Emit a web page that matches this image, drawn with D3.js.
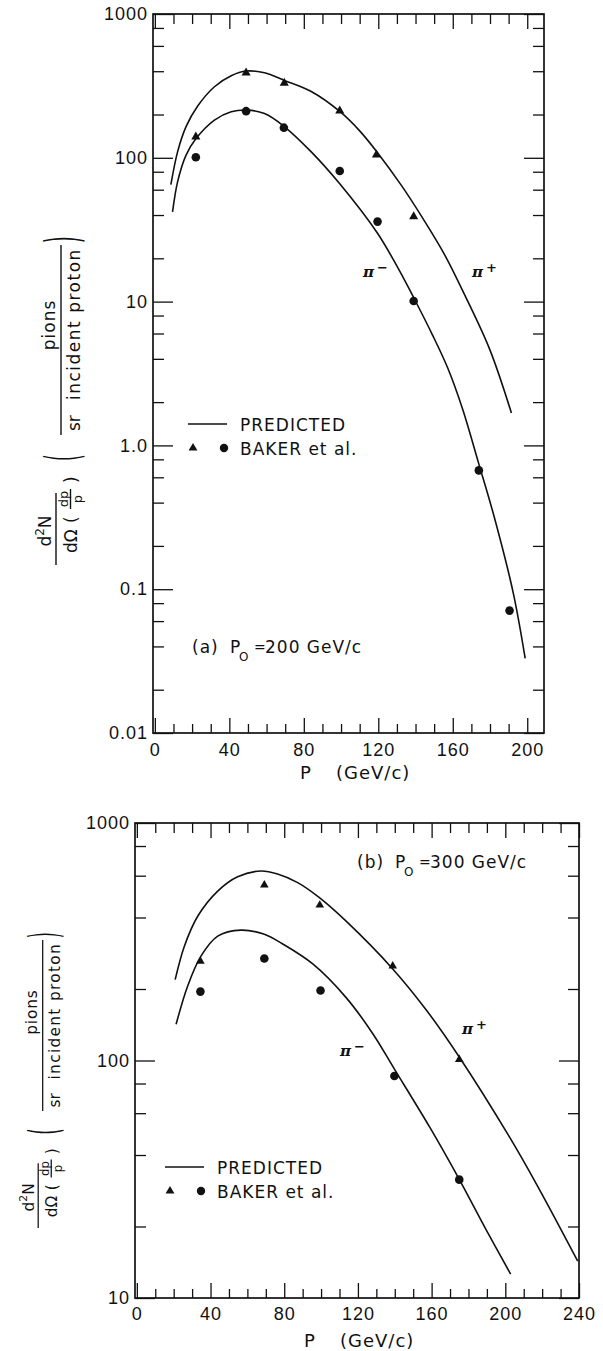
<!DOCTYPE html>
<html>
<head>
<meta charset="utf-8">
<script src="https://cdn.jsdelivr.net/npm/d3@7/dist/d3.min.js"></script>
<style>
  body { margin: 0; background: #fff; }
  svg { display: block; font-family: "DejaVu Sans", sans-serif; }
  .tick text { font-size: 18px; fill: #111; letter-spacing: 1px; }
  .tick line { stroke: #111; stroke-width: 1.3; }
</style>
</head>
<body>
<script>
// ---- panel (a): P0 = 200 GeV/c ----
var aPlusPts  = [[22,140],[49,390],[69.5,331],[99.3,212],[119,105],[139,39]];
var aMinusPts = [[22,101],[49,211],[69.3,162],[99.3,81],[119.6,36],[139,10.1],[174,0.67],[190.5,0.071]];
var aPlusCurve = [[8.6,65],[12.2,110],[16.7,164],[23,229],[32,312],[41,372],[49,401],[58.9,390],
  [69.6,345],[84,289],[99.3,210],[110,154],[119.5,109],[132.5,64],[145,36],[155.8,21],
  [166.6,11],[180,4.6],[191.5,1.68]];
var aMinusCurve = [[9.5,42],[12.2,68],[16.7,104],[22.1,136],[32,183],[41,209],[49.4,215],[58.9,203],
  [69,167],[84,110],[99.3,66],[119.5,30],[130.7,17],[139.6,10.3],[149,5.9],[157.3,3.45],
  [165.4,1.77],[173.9,0.75],[182.2,0.32],[192.5,0.094],[198.9,0.033]];
var aYTicks  = [0.01, 0.1, 1, 10, 100, 1000];
var aYLabels = ["0.01", "0.1", "1.0", "10", "100", "1000"];
var aXTicks  = [0, 40, 80, 120, 160, 200];

// ---- panel (b): P0 = 300 GeV/c ----
var bPlusPts  = [[34.5,262],[69.2,548],[99.3,451],[138.9,250],[175,101]];
var bMinusPts = [[34.5,195],[69.2,269],[99.7,197],[139.8,86],[175,31.5]];
var bPlusCurve = [[20.8,219],[25.8,303],[33.1,406],[43.9,517],[54.7,594],[67.3,628],[76.4,610],
  [87.3,561],[99.1,485],[113.6,386],[138.9,243],[156.9,164],[175,103.5],[202,48],[217.5,29.6],[239.3,14.3]];
var bMinusCurve = [[21.3,142],[27.6,206],[34.8,275],[43.9,334],[56.5,354],[69.2,340],[79,310],
  [95.5,255],[113.6,184],[128,130],[139.8,92],[158.9,52.5],[175,31.6],[189.4,19.5],[202.9,12.6]];
var bYTicks  = [10, 100, 1000];
var bYLabels = ["10", "100", "1000"];
var bXTicks  = [0, 40, 80, 120, 160, 200, 240];

var ink = "#111";

var svg = d3.select("body").append("svg")
    .attr("width", 603)
    .attr("height", 1351);

function minorLog(y) {
    var d = y.domain(), out = [];
    for (var e = d[0]; e < d[1]; e *= 10) {
        [2, 4, 6, 8].forEach(function (m) { out.push(m * e); });
    }
    return out;
}

function panel(x, y, yTicks, yLabels, xTicks, xPad) {
    var x0 = x.range()[0], x1 = x.range()[1];
    var yb = y.range()[0], yt = y.range()[1];
    var g = svg.append("g");
    var minorX = d3.range(0, x.domain()[1] + 0.01, 10).filter(function (d) { return xTicks.indexOf(d) < 0; });

    function clean(s) { s.select(".domain").remove(); }

    // left / right, majors and minors
    g.append("g").attr("transform", "translate(" + x0 + ",0)")
        .call(d3.axisLeft(y).tickValues(yTicks).tickFormat(function (d, i) { return yLabels[i]; })
            .tickSize(-20).tickPadding(5)).call(clean);
    g.append("g").attr("transform", "translate(" + x0 + ",0)")
        .call(d3.axisLeft(y).tickValues(minorLog(y)).tickFormat("").tickSize(-11)).call(clean);
    g.append("g").attr("transform", "translate(" + x1 + ",0)")
        .call(d3.axisRight(y).tickValues(yTicks).tickFormat("").tickSize(-20)).call(clean);
    g.append("g").attr("transform", "translate(" + x1 + ",0)")
        .call(d3.axisRight(y).tickValues(minorLog(y)).tickFormat("").tickSize(-11)).call(clean);

    // bottom / top
    g.append("g").attr("transform", "translate(0," + yb + ")")
        .call(d3.axisBottom(x).tickValues(xTicks).tickSize(-15).tickPadding(xPad)).call(clean);
    g.append("g").attr("transform", "translate(0," + yb + ")")
        .call(d3.axisBottom(x).tickValues(minorX).tickFormat("").tickSize(-9)).call(clean);
    g.append("g").attr("transform", "translate(0," + yt + ")")
        .call(d3.axisTop(x).tickValues(xTicks).tickFormat("").tickSize(-15)).call(clean);
    g.append("g").attr("transform", "translate(0," + yt + ")")
        .call(d3.axisTop(x).tickValues(minorX).tickFormat("").tickSize(-10)).call(clean);

    g.append("rect")
        .attr("x", x0).attr("y", yt)
        .attr("width", x1 - x0).attr("height", yb - yt)
        .attr("fill", "none").attr("stroke", ink).attr("stroke-width", 1.7);
    return g;
}

function curves(g, x, y, list) {
    var line = d3.line()
        .x(function (d) { return x(d[0]); })
        .y(function (d) { return y(d[1]); })
        .curve(d3.curveCatmullRom);
    list.forEach(function (c) {
        g.append("path").attr("d", line(c))
            .attr("fill", "none").attr("stroke", ink).attr("stroke-width", 1.6);
    });
}

function points(g, x, y, tri, circ, triSize) {
    g.selectAll(null).data(tri).enter().append("path")
        .attr("d", d3.symbol(d3.symbolTriangle, triSize))
        .attr("transform", function (d) { return "translate(" + x(d[0]) + "," + y(d[1]) + ")"; })
        .attr("fill", ink);
    g.selectAll(null).data(circ).enter().append("circle")
        .attr("cx", function (d) { return x(d[0]); })
        .attr("cy", function (d) { return y(d[1]); })
        .attr("r", 4.3).attr("fill", ink);
}

function text(x, y, str, size) {
    return svg.append("text").attr("x", x).attr("y", y)
        .attr("font-size", size || 17).attr("fill", ink).attr("letter-spacing", 1).text(str);
}

function legend(lx, ly) {
    svg.append("line").attr("x1", lx).attr("x2", lx + 39).attr("y1", ly).attr("y2", ly)
        .attr("stroke", ink).attr("stroke-width", 1.5);
    text(lx + 52, ly + 7, "PREDICTED");
    svg.append("path").attr("d", d3.symbol(d3.symbolTriangle, 34))
        .attr("transform", "translate(" + (lx + 5) + "," + (ly + 24) + ")").attr("fill", ink);
    svg.append("circle").attr("cx", lx + 36).attr("cy", ly + 24).attr("r", 4.2).attr("fill", ink);
    text(lx + 52, ly + 31, "BAKER et al.");
}

function pion(px, py, sign) {
    var t = svg.append("text").attr("x", px).attr("y", py)
        .attr("font-family", "'DejaVu Serif', serif").attr("font-style", "italic")
        .attr("font-weight", "bold").attr("font-size", 15).attr("fill", ink).text("π");
    t.append("tspan").attr("dx", 3).attr("dy", -5).attr("font-size", 13)
        .attr("font-family", "'DejaVu Sans', sans-serif").attr("font-style", "normal").text(sign);
}

function pLabel(px, py, tag, val) {
    text(px, py, tag);
    text(px + 38, py, "P");
    text(px + 47, py + 8, "O", 12);
    text(px + 62, py - 1, "=", 14);
    text(px + 73, py, val + " GeV/c");
}

function axisTitle(px, py) {
    text(px, py, "P", 18);
    text(px + 36, py, "(GeV/c)", 18);
}

function yLabel(tx, ty, s) {
    var g = svg.append("g")
        .attr("transform", "translate(" + tx + "," + ty + ") rotate(-90) scale(" + s + ")")
        .attr("fill", ink);
    function t(x, y, str, size, anchor) {
        return g.append("text").attr("x", x).attr("y", y)
            .attr("font-size", size || 17).attr("text-anchor", anchor || "start").text(str);
    }
    function bar(a, b, y) {
        g.append("line").attr("x1", a).attr("x2", b).attr("y1", y).attr("y2", y)
            .attr("stroke", ink).attr("stroke-width", 1.4);
    }
    function paren(x, str) {
        // tall thin bracket: a normal glyph stretched across the fraction
        g.append("text").attr("transform", "translate(" + x + ",5) scale(1,2.7)")
            .attr("y", 5.4).attr("font-size", 17).text(str);
    }
    var num = t(34, -7, "d", 17, "middle");
    num.append("tspan").attr("font-size", 12).attr("dy", -7).text("2");
    num.append("tspan").attr("dy", 7).text("N");
    bar(0, 72, -2);
    t(12, 19, "dΩ");
    t(42, 19, "(");
    t(66, 10, "dp", 13, "middle");
    bar(56, 76, 12.5);
    t(66, 24, "p", 13, "middle");
    t(82, 19, ")");

    paren(104, "(");
    bar(130, 320, 3);
    t(240, -3, "pions", 17, "middle").attr("letter-spacing", 1);
    t(134, 22, "sr");
    t(165, 22, "incident proton").attr("letter-spacing", 1.5);
    paren(322, ")");
}

// panel (a)
var xa = d3.scaleLinear().domain([-1, 209]).range([153, 544]);
var ya = d3.scaleLog().domain([0.01, 1000]).range([733, 14]);
var ga = panel(xa, ya, aYTicks, aYLabels, aXTicks, 10);
curves(ga, xa, ya, [aPlusCurve, aMinusCurve]);
points(ga, xa, ya, aPlusPts, aMinusPts, 36);
legend(188, 424);
pion(363, 277, "−");
pion(472, 277, "+");
pLabel(192, 653, "(a)", "200");
axisTitle(300, 779);
yLabel(58, 565, 1);

// panel (b)
var xb = d3.scaleLinear().domain([-1, 240]).range([135, 579]);
var yb = d3.scaleLog().domain([10, 1000]).range([1298, 823]);
var gb = panel(xb, yb, bYTicks, bYLabels, bXTicks, 9);
curves(gb, xb, yb, [bPlusCurve, bMinusCurve]);
points(gb, xb, yb, bPlusPts, bMinusPts, 32);
legend(165, 1167);
pion(340, 1056, "−");
pion(462, 1034, "+");
pLabel(357, 868, "(b)", "300");
axisTitle(304, 1347);
yLabel(40, 1228, 0.9);
</script>
</body>
</html>
